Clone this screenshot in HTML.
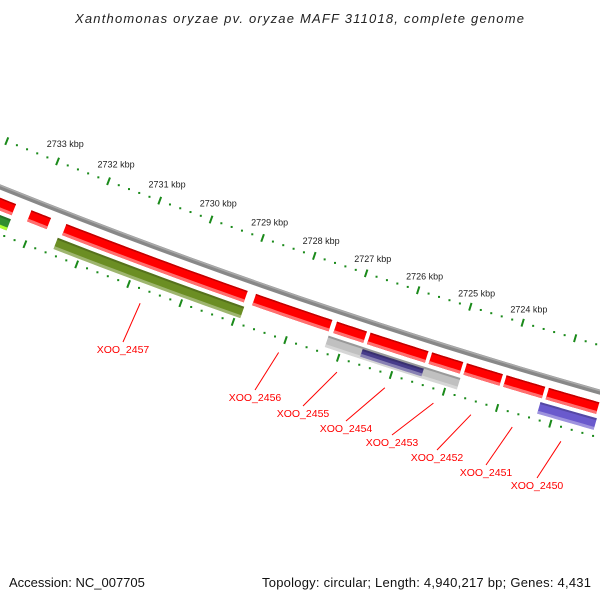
<!DOCTYPE html>
<html><head><meta charset="utf-8"><style>
html,body{margin:0;padding:0;background:#fff;}
#wrap{position:relative;width:600px;height:600px;overflow:hidden;font-family:"Liberation Sans",sans-serif;}
svg{position:absolute;left:0;top:0;}
</style></head><body>
<div id="wrap">
<svg id="chart" width="600" height="600" viewBox="0 0 600 600">
<text x="75" y="23" textLength="449" lengthAdjust="spacing" font-family="Liberation Sans, sans-serif" font-style="italic" font-size="13" fill="#222">Xanthomonas oryzae pv. oryzae MAFF 311018, complete genome</text>
<text x="9" y="587" font-family="Liberation Sans, sans-serif" font-size="13" fill="#111">Accession: NC_007705</text>
<text x="262" y="587" textLength="329" lengthAdjust="spacing" font-family="Liberation Sans, sans-serif" font-size="13" fill="#111">Topology: circular; Length: 4,940,217 bp; Genes: 4,431</text>
<g id="layer"></g>
</svg>
</div>
<script>
// ruler range (kbp)
const rulerStart = 2720;
const rulerEnd = 2734;
const labelFirst = 2724;
const labelLast = 2733;
// red genes on the outer gene track (kbp start, end)
const redStarts = [2733.4, 2732.15, 2731.47, 2727.81, 2726.26, 2725.62, 2724.45, 2723.79, 2723.04, 2722.24, 2721.20];
const redEnds   = [2732.38, 2731.70, 2727.90, 2726.28, 2725.62, 2724.45, 2723.79, 2723.04, 2722.24, 2721.22, 2720.6];
// second track features
const featNames  = ['misc-green', 'olive-feature', 'gray-feature', 'navy-feature', 'blue-feature'];
const featStarts = [2733.2, 2731.49, 2726.29, 2725.63, 2722.28];
const featEnds   = [2732.40, 2727.90, 2723.79, 2724.47, 2721.22];
const featColors = ['#2f8f2f', '#6b8e23', '#c0c0c0', '#483d8b', '#6a5acd'];
// gene labels: index into red genes
const labelText  = ['XOO_2457', 'XOO_2456', 'XOO_2455', 'XOO_2454', 'XOO_2453', 'XOO_2452', 'XOO_2451', 'XOO_2450'];
const labelGene  = [2, 3, 4, 5, 6, 7, 8, 9];
// label anchor (end of leader line) placement
const labelAnchorX = [123, 255, 303, 346, 392, 437, 486, 537];
const labelAnchorY = [342, 390, 406, 421, 435, 450, 465, 478];

const CX = 2206, CY = -5283;
const R_OUTER = 5853, R_BACK = 5898, R_RED = 5914, R_SEC = 5930, R_INNER = 5942;
const GAP = 0.035;
function ang(k){ return (107.25 + (k - 2724) * 0.5356) * Math.PI / 180; }
function pt(r, k){ const a = ang(k); return [CX + r * Math.cos(a), CY + r * Math.sin(a)]; }
const NS = 'http://www.w3.org/2000/svg';
const layer = document.getElementById('layer');
function mk(tag, attrs){ const e = document.createElementNS(NS, tag); for (const k in attrs) e.setAttribute(k, attrs[k]); layer.appendChild(e); return e; }
function arcPath(r, k1, k2){ let d = ''; const n = 20; for (let i = 0; i <= n; i++){ const k = k1 + (k2 - k1) * i / n; const p = pt(r, k); d += (i ? 'L' : 'M') + p[0].toFixed(2) + ',' + p[1].toFixed(2); } return d; }
function band(r1, r2, k1, k2){
  const n = 16; const pts = [];
  for (let i = 0; i <= n; i++){ pts.push(pt(r1, k1 + (k2 - k1) * i / n)); }
  for (let i = n; i >= 0; i--){ pts.push(pt(r2, k1 + (k2 - k1) * i / n)); }
  return pts.map(p => p[0].toFixed(2) + ',' + p[1].toFixed(2)).join(' ');
}

// backbone
let bb = mk('path', {d: arcPath(R_BACK, rulerEnd, rulerStart), stroke: '#888', 'stroke-width': 5, fill: 'none'});


let bb2 = mk('path', {d: arcPath(R_BACK - 1.5, rulerEnd, rulerStart), stroke: '#aaa', 'stroke-width': 1.5, fill: 'none'});



// rulers
function ruler(r, name, withLabels){
  for (let s = Math.round(rulerStart * 5); s <= rulerEnd * 5; s++){
    const k = s / 5;
    if (s % 5 === 0){
      const a = pt(r - 4, k), b = pt(r + 4, k);
      const t = mk('line', {x1: a[0], y1: a[1], x2: b[0], y2: b[1], stroke: '#1a8a1a', 'stroke-width': 2});
      
      
      if (withLabels && k >= labelFirst && k <= labelLast){
        const c = pt(r, k);
        const lb = mk('text', {x: c[0] + 40, y: c[1] + 6, 'font-size': 9, fill: '#222', 'font-family': 'Liberation Sans, sans-serif'});
        lb.textContent = k + ' kbp';
        
        
      }
    } else {
      const c = pt(r, k);
      const d = mk('rect', {x: c[0] - 1, y: c[1] - 1, width: 2, height: 2, fill: '#1a8a1a'});
      
      
    }
  }
}
ruler(R_OUTER, 'outer-ruler', true);
ruler(R_INNER, 'inner-ruler', false);

// second track features
for (let i = 0; i < featStarts.length; i++){
  const thin = featNames[i] === 'navy-feature';
  const h = thin ? 4 : 6;
  const g = mk('polygon', {points: band(R_SEC - h, R_SEC + h, featStarts[i], featEnds[i]), fill: featColors[i]});
  
  
  const top = mk('polygon', {points: band(R_SEC - h, R_SEC - h + 2, featStarts[i], featEnds[i]), fill: '#000', 'fill-opacity': 0.2});
  
  
  const bot = mk('polygon', {points: band(R_SEC + h - 3, R_SEC + h, featStarts[i], featEnds[i]), fill: i === 0 ? '#adff2f' : '#fff', 'fill-opacity': i === 0 ? 1 : 0.35});
  
  
}

// red genes
for (let i = 0; i < redStarts.length; i++){
  const s = redStarts[i] - GAP, e = redEnds[i] + GAP;
  const g = mk('polygon', {points: band(R_RED - 6, R_RED + 6, s, e), fill: '#ff0000'});
  
  
  const top = mk('polygon', {points: band(R_RED - 6, R_RED - 4.5, s, e), fill: '#c00000'});
  
  
  const bot = mk('polygon', {points: band(R_RED + 3, R_RED + 6, s, e), fill: '#ff6f6f'});
  
  
}

// gene labels with leader lines
for (let i = 0; i < labelText.length; i++){
  const gi = labelGene[i];
  const kc = (redStarts[gi] + redEnds[gi]) / 2;
  const a = pt(5956, kc);
  const bx = labelAnchorX[i], by = labelAnchorY[i];
  const ln = mk('line', {x1: a[0], y1: a[1], x2: bx, y2: by, stroke: '#ff0000', 'stroke-width': 1});
  
  
  const t = mk('text', {x: bx, y: by + 11, 'text-anchor': 'middle', 'font-size': 10.5, fill: '#ff0000', 'font-family': 'Liberation Sans, sans-serif'});
  t.textContent = labelText[i];
  
  
}
</script>
</body></html>
